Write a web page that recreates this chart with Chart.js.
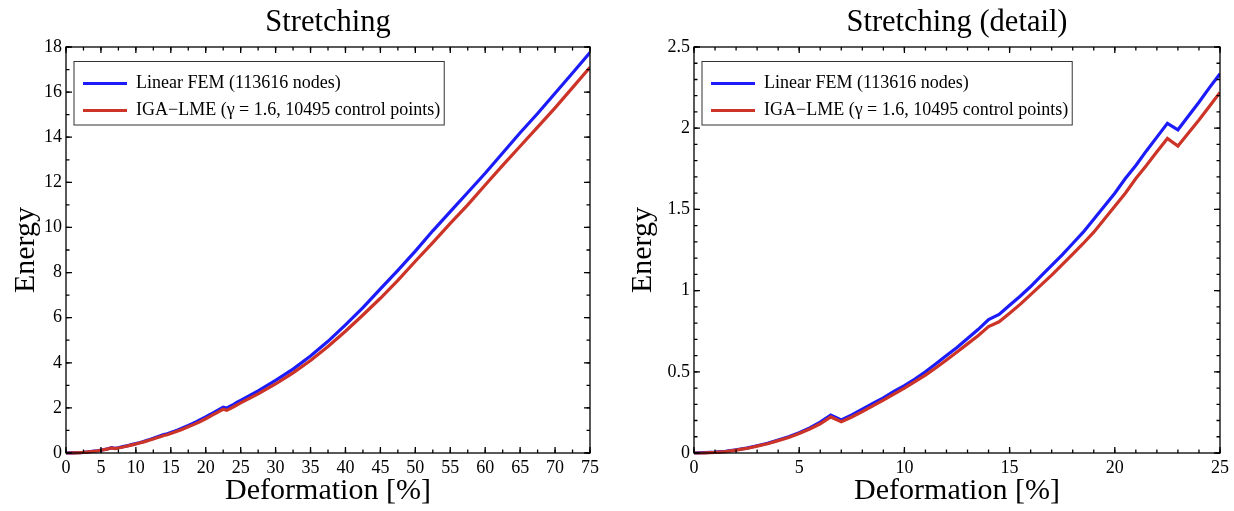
<!DOCTYPE html>
<html>
<head>
<meta charset="utf-8">
<script src="https://cdn.jsdelivr.net/npm/chart.js@4"></script>
<style>
  html, body { margin: 0; padding: 0; background: #fff; overflow: hidden; }
  .panel { position: absolute; top: 0; width: 617px; height: 511px; }
</style>
</head>
<body>
<div class="panel" style="left:0"><canvas id="full"></canvas></div>
<div class="panel" style="left:617px"><canvas id="detail"></canvas></div>
<script>
// deformation in %
const deformation = [
  0, 0.5, 1, 1.5, 2, 2.5, 3, 3.5, 4, 4.5, 5, 5.5, 6, 6.5, 7, 7.5, 8, 8.5, 9, 9.5,
  10, 10.5, 11, 11.5, 12, 12.5, 13, 13.5, 14, 14.5, 15, 15.5, 16, 16.5, 17, 17.5,
  18, 18.5, 19, 19.5, 20, 20.5, 21, 21.5, 22, 22.5, 23, 23.5, 24, 24.5, 25,
  27.5, 30, 32.5, 35, 37.5, 40, 42.5, 45, 47.5, 50, 52.5, 55, 57.5, 60, 62.5,
  65, 67.5, 70, 72.5, 75
];
const linearFem = [
  0, 0.002, 0.005, 0.01, 0.02, 0.03, 0.045, 0.06, 0.08, 0.1, 0.125, 0.155, 0.19, 0.233, 0.204, 0.235, 0.27, 0.305, 0.34, 0.38,
  0.415, 0.455, 0.5, 0.55, 0.6, 0.65, 0.705, 0.76, 0.822, 0.853, 0.91, 0.965, 1.025, 1.09, 1.155, 1.22,
  1.29, 1.36, 1.44, 1.52, 1.6, 1.69, 1.77, 1.86, 1.945, 2.03, 1.99, 2.075, 2.16, 2.25, 2.335,
  2.75, 3.22, 3.72, 4.3, 4.95, 5.68, 6.45, 7.28, 8.1, 8.95, 9.85, 10.7, 11.55, 12.4, 13.3,
  14.2, 15.05, 15.95, 16.85, 17.75
];
const igaLme = [
  0, 0.001, 0.004, 0.009, 0.018, 0.028, 0.042, 0.057, 0.076, 0.096, 0.12, 0.148, 0.18, 0.222, 0.192, 0.222, 0.255, 0.29, 0.325, 0.362,
  0.4, 0.44, 0.48, 0.525, 0.573, 0.622, 0.672, 0.722, 0.778, 0.808, 0.86, 0.915, 0.975, 1.035, 1.095, 1.16,
  1.225, 1.29, 1.36, 1.44, 1.52, 1.6, 1.69, 1.77, 1.855, 1.937, 1.89, 1.97, 2.05, 2.135, 2.22,
  2.62, 3.06, 3.55, 4.1, 4.72, 5.4, 6.12, 6.86, 7.65, 8.5, 9.33, 10.18, 11.0, 11.88, 12.75,
  13.6, 14.45, 15.3, 16.2, 17.1
];
const seriesLabels = ["Linear FEM (113616 nodes)", "IGA\u2212LME (\u03b3 = 1.6, 10495 control points)"];
const seriesColors = ["rgb(28,28,250)", "rgb(204,52,40)"];

const serif = "'Liberation Serif', 'Times New Roman', serif";

// box frame with inward ticks on all four sides + border round the legend
const frameTicks = {
  id: "frameTicks",
  beforeDraw(chart) {
    const a = chart.chartArea;
    // legend sits inside the plot, title is centred over the plot
    const lg = chart.legend;
    lg.left = a.left + 8;
    lg.top = a.top + 18.5;
    const tb = chart.titleBlock;
    if (tb) { tb.left = a.left; tb.right = a.right; }
  },
  afterDraw(chart, args, opts) {
    const { ctx, chartArea: a, scales } = chart;
    ctx.save();
    ctx.strokeStyle = "#000";
    ctx.lineWidth = 1.3;
    ctx.strokeRect(a.left, a.top, a.right - a.left, a.bottom - a.top);
    const drawX = (step, len) => {
      for (let v = scales.x.min; v <= scales.x.max + 1e-9; v += step) {
        const px = scales.x.getPixelForValue(v);
        ctx.beginPath();
        ctx.moveTo(px, a.bottom); ctx.lineTo(px, a.bottom - len);
        ctx.moveTo(px, a.top); ctx.lineTo(px, a.top + len);
        ctx.stroke();
      }
    };
    const drawY = (step, len) => {
      for (let v = scales.y.min; v <= scales.y.max + 1e-9; v += step) {
        const py = scales.y.getPixelForValue(v);
        ctx.beginPath();
        ctx.moveTo(a.left, py); ctx.lineTo(a.left + len, py);
        ctx.moveTo(a.right, py); ctx.lineTo(a.right - len, py);
        ctx.stroke();
      }
    };
    drawX(opts.xMajor, 6); drawX(opts.xMinor, 3.5);
    drawY(opts.yMajor, 6); drawY(opts.yMinor, 3.5);

    // legend border
    const lg = chart.legend;
    ctx.font = "18px " + serif;
    const tw = Math.max(...seriesLabels.map(t => ctx.measureText(t).width));
    const right = lg.left + 9 + 44 + 9 + tw + 4;
    ctx.lineWidth = 1;
    ctx.strokeStyle = "#333";
    ctx.strokeRect(lg.left, lg.top - 4, right - lg.left, 63.5);
    ctx.restore();
  }
};

function makeChart(id, title, xMax, yMax, xStep, yStep, xMinor, yMinor, yWidth, padRight) {
  const points = (vals) => deformation.map((d, i) => ({ x: d, y: vals[i] }));
  const clip = { left: 5, top: 5, right: 0, bottom: 5 };
  return new Chart(document.getElementById(id), {
    type: "line",
    data: {
      datasets: [
        { label: seriesLabels[0], data: points(linearFem), borderColor: seriesColors[0], backgroundColor: seriesColors[0], borderWidth: 3.2, pointRadius: 0, order: 1, clip },
        { label: seriesLabels[1], data: points(igaLme), borderColor: seriesColors[1], backgroundColor: seriesColors[1], borderWidth: 3.2, pointRadius: 0, order: 0, clip }
      ]
    },
    options: {
      responsive: true,
      maintainAspectRatio: false,
      animation: false,
      layout: { padding: { left: 0, right: padRight, top: 0, bottom: 0 } },
      plugins: {
        title: {
          display: true, text: title, color: "#000",
          font: { family: serif, size: 30.5, weight: "normal" },
          padding: { top: 5, bottom: 5.4 }
        },
        legend: {
          position: "chartArea", align: "start",
          labels: {
            color: "#000", font: { family: serif, size: 18 },
            usePointStyle: true, pointStyle: "line", pointStyleWidth: 44, padding: 9,
            sort: (a, b) => a.datasetIndex - b.datasetIndex
          }
        },
        tooltip: { enabled: false },
        frameTicks: { xMajor: xStep, xMinor: xMinor, yMajor: yStep, yMinor: yMinor }
      },
      scales: {
        x: {
          type: "linear", min: 0, max: xMax,
          grid: { display: false, drawTicks: false }, border: { display: false },
          ticks: { stepSize: xStep, autoSkip: false, maxRotation: 0, color: "#000", padding: 4, font: { family: serif, size: 18 } },
          title: { display: true, text: "Deformation [%]", color: "#000", font: { family: serif, size: 30 }, padding: { top: 0, bottom: 2 } },
          afterFit: (s) => { s.height = 58; }
        },
        y: {
          min: 0, max: yMax,
          grid: { display: false, drawTicks: false }, border: { display: false },
          ticks: { stepSize: yStep, color: "#000", padding: 4, font: { family: serif, size: 18 }, callback: (v) => String(v) },
          title: { display: true, text: "Energy", color: "#000", font: { family: serif, size: 30 }, padding: { top: 8, bottom: 0 } },
          afterFit: (s) => { s.width = yWidth; }
        }
      }
    },
    plugins: [frameTicks]
  });
}

makeChart("full", "Stretching", 75, 18, 5, 2, 2.5, 1, 66, 27);
makeChart("detail", "Stretching (detail)", 25, 2.5, 5, 0.5, 1, 0.1, 77, 14);
</script>
</body>
</html>
